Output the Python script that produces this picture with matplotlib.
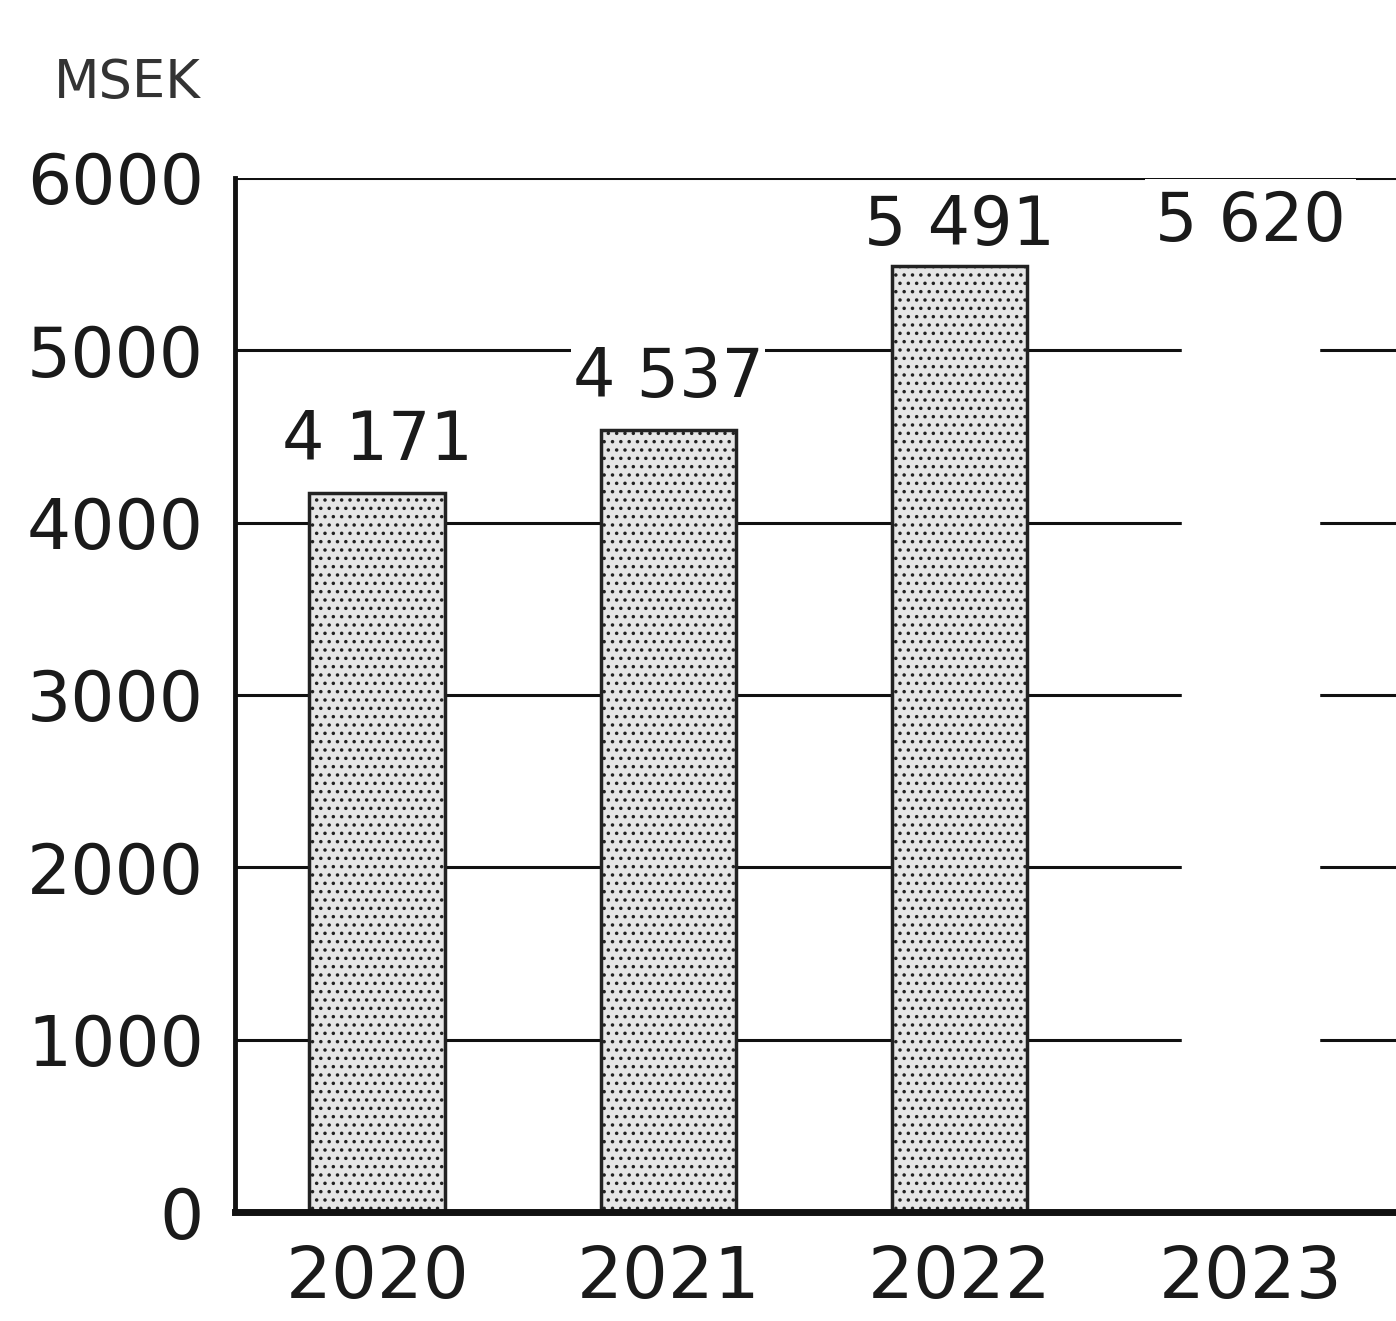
import matplotlib
matplotlib.use("Agg")
import matplotlib.pyplot as plt

years = ["2020", "2021", "2022", "2023"]
values = [4171, 4537, 5491, 5620]
value_labels = ["4 171", "4 537", "5 491", "5 620"]
y_ticks = [0, 1000, 2000, 3000, 4000, 5000, 6000]
unit = "MSEK"

plt.rcParams["hatch.color"] = "#444444"
plt.rcParams["hatch.linewidth"] = 1.3

fig = plt.figure(figsize=(13.96, 13.21), dpi=100)
ax = fig.add_axes([0.168, 0.0825, 0.832, 0.7828])

x = list(range(len(years)))
bars = ax.bar(x, values, width=0.465, zorder=3, linewidth=2.5,
              edgecolor="#222222", facecolor="#e6e6e6", hatch="..")
# last bar appears blank (white) in reference
bars[-1].set_facecolor("white")
bars[-1].set_edgecolor("white")
bars[-1].set_hatch("")

offsets = [14, 14, 5, -8]
pads = [0.02, 0.02, 0.02, 0.15]
for i, (v, lab) in enumerate(zip(values, value_labels)):
    ax.annotate(lab, (i, v), xytext=(0, offsets[i]), textcoords="offset points",
                ha="center", va="bottom", fontsize=48, color="#1a1a1a",
                zorder=5,
                bbox=dict(boxstyle="square,pad=%g" % pads[i], fc="white", ec="none"))

ax.set_xlim(-0.49, 3.5)
ax.set_ylim(0, 6000)
ax.set_yticks(y_ticks)
ax.set_yticklabels([str(t) for t in y_ticks], fontsize=50, color="#1a1a1a")
ax.set_xticks(x)
ax.set_xticklabels(years, fontsize=52, color="#1a1a1a")
ax.tick_params(axis="both", length=0)
ax.tick_params(axis="y", pad=22)
ax.tick_params(axis="x", pad=23)

ax.yaxis.grid(True, color="#111111", linewidth=2.2, zorder=1)
ax.set_axisbelow(True)
for s in ["top", "right"]:
    ax.spines[s].set_visible(False)
ax.spines["left"].set_linewidth(3.5)
ax.spines["bottom"].set_linewidth(5)
ax.spines["left"].set_color("#111111")
ax.spines["bottom"].set_color("#111111")
ax.spines["bottom"].set_zorder(6)
ax.spines["left"].set_zorder(6)

fig.text(0.091, 0.937, unit, ha="center", va="center", fontsize=38, color="#333333")

fig.savefig("out.png", dpi=100, facecolor="white")
